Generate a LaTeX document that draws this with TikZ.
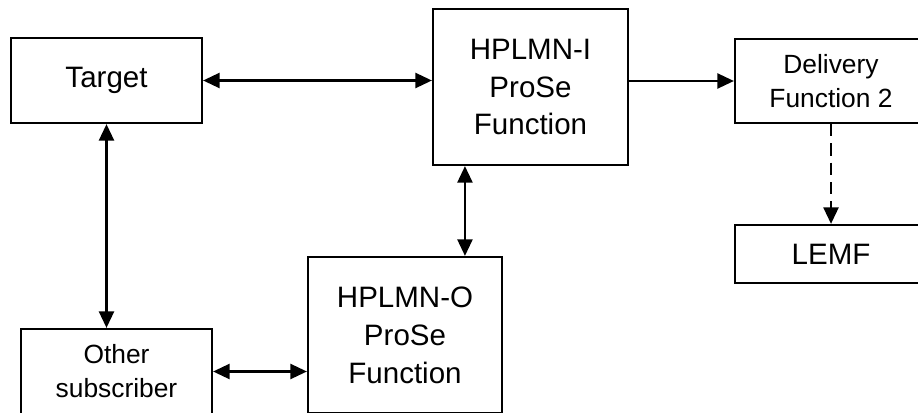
\documentclass[tikz,border=0pt]{standalone}
\usepackage{fontspec}
\setmainfont{Liberation Sans}
\usetikzlibrary{positioning}
\usetikzlibrary{calc}
\usetikzlibrary{arrows.meta}

\begin{document}
\begin{tikzpicture}[x=0.02cm, y=-0.02cm,
    box/.style={draw, line width=1.2pt, inner sep=0pt, align=center,
                font=\fontsize{16.8}{21.6}\selectfont},
    smallbox/.style={box, font=\fontsize{15}{19.3}\selectfont},
    link/.style={line width=1.6pt, {Triangle[length=9.5pt, width=8.5pt]}-{Triangle[length=9.5pt, width=8.5pt]}},
    oneway/.style={line width=1.6pt, -{Triangle[length=9.5pt, width=8.5pt]}}]
    \useasboundingbox (0,0) rectangle (918,412);
    \clip (0,0) rectangle (918,412);

    % network elements
    \node[box, minimum width=3.82cm, minimum height=1.7cm] (target) at (106.5, 80.5) {Target};
    \node[box, minimum width=3.9cm, minimum height=3.12cm] (hplmnI) at (530.5, 87) {HPLMN-I\\ProSe\\Function};
    \node[smallbox, minimum width=3.84cm, minimum height=1.68cm] (df2) at (831, 81) {Delivery\\Function 2};
    \node[box, minimum width=3.84cm, minimum height=1.16cm] (lemf) at (831, 254) {LEMF};
    \node[box, minimum width=3.88cm, minimum height=3.12cm] (hplmnO) at (405, 335) {HPLMN-O\\ProSe\\Function};
    \node[smallbox, minimum width=3.82cm, minimum height=1.7cm] (other) at (116.5, 371.5) {Other\\subscriber};

    % interfaces
    \draw[link] (target.east) -- (target.east -| hplmnI.west);
    \draw[oneway] (df2.west -| hplmnI.east) -- (df2.west);
    \draw[oneway, dashed, dash pattern=on 7pt off 4pt] (df2.south) -- (lemf.north);
    \draw[link] ([xshift=0.66cm]hplmnI.south west) -- ([xshift=0.66cm]hplmnI.south west |- hplmnO.north);
    \draw[link] (target.south) -- (target.south |- other.north);
    \draw[link] (other.east) -- (other.east -| hplmnO.west);
\end{tikzpicture}
\end{document}
